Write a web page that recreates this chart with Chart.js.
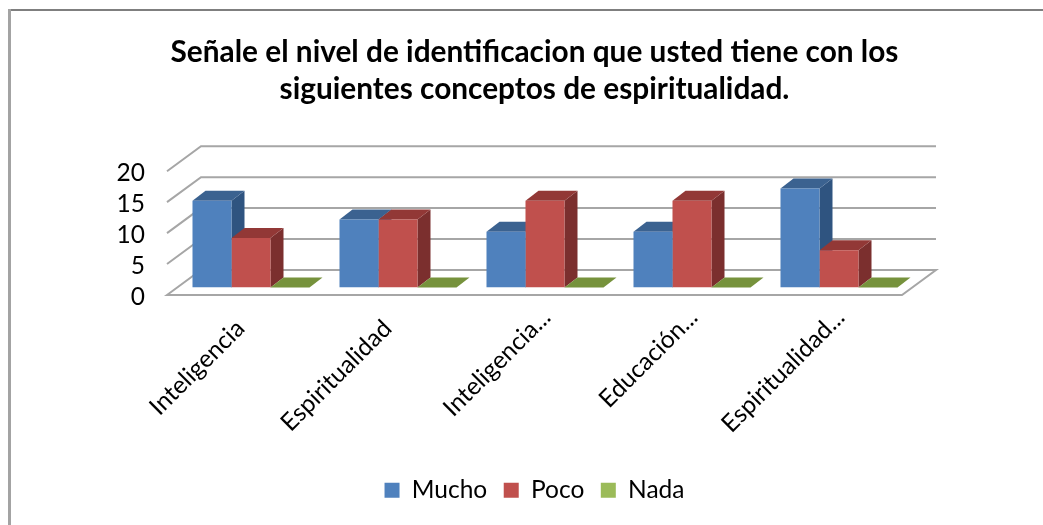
<!DOCTYPE html>
<html>
<head>
<meta charset="utf-8">
<style>
  html, body { margin: 0; padding: 0; background: #fff; }
  #wrap { width: 1043px; height: 525px; }
</style>
<script src="https://cdn.jsdelivr.net/npm/chart.js@4"></script>
</head>
<body>
<div id="wrap"><canvas id="grafico"></canvas></div>
<script>
var categorias = ['Inteligencia', 'Espiritualidad', 'Inteligencia...', 'Educación...', 'Espiritualidad...'];
var mucho = [14, 11, 9, 9, 16];
var poco = [8, 11, 14, 14, 6];
var nada = [0, 0, 0, 0, 0];
var tickLabels = [0, 5, 10, 15, 20];
var titulo = ['Señale el nivel de identificacion que usted tiene con los', 'siguientes conceptos de espiritualidad.'];

var FUENTE = 'Lato';
// colores: frente, tapa, lado
var tonos = [
    ['#4F81BD', '#3B6290', '#2F5480'],
    ['#C0504D', '#923836', '#7B2F2E'],
    ['#9BBB59', '#76923C', '#5F7530']
];

// profundidad de la caja y de las barras
var FONDO = { x: 34, y: -25 };
var PLANO = { x: 10.5, y: -7.5 };
var BARRA = { x: 13, y: -10 };

function poli(ctx, pts, color) {
    ctx.fillStyle = color;
    ctx.beginPath();
    ctx.moveTo(pts[0][0], pts[0][1]);
    for (var i = 1; i < pts.length; i++) ctx.lineTo(pts[i][0], pts[i][1]);
    ctx.closePath();
    ctx.fill();
}

// ajuste fino de las etiquetas ya calculadas por la escala
function moverEtiquetas(escala, dx, dy, filtro) {
    escala.getLabelItems().forEach(function(it) {
        if (it.movido || !filtro(it.label)) return;
        it.options.translation[0] += dx;
        it.options.translation[1] += dy;
        it.movido = true;
    });
}

var caja3d = {
    id: 'caja3d',
    beforeDraw: function(chart) {
        var ctx = chart.ctx;
        // marco del grafico, solo arriba e izquierda
        ctx.save();
        ctx.fillStyle = '#7f7f7f';
        ctx.fillRect(8, 9, 1035, 2);
        ctx.fillStyle = '#a3a3a3';
        ctx.fillRect(8, 9, 3, 516);
        ctx.restore();
        moverEtiquetas(chart.scales.x, 12, -11, function(t) { return String(t).slice(-3) === '...'; });
        moverEtiquetas(chart.scales.y, 0, 2, function() { return true; });
    },
    beforeDatasetsDraw: function(chart) {
        var ctx = chart.ctx, y = chart.scales.y, a = chart.chartArea;
        ctx.save();
        ctx.strokeStyle = '#a6a6a6';
        ctx.lineWidth = 2;
        tickLabels.forEach(function(v) {
            var py = y.getPixelForValue(v);
            ctx.beginPath();
            ctx.moveTo(a.left, py);
            ctx.lineTo(a.left + FONDO.x, py + FONDO.y);
            ctx.lineTo(a.right + FONDO.x, py + FONDO.y);
            if (v === 0) {
                ctx.lineTo(a.right, py);
                ctx.closePath();
            }
            ctx.stroke();
        });
        // tapas y lados de cada barra
        chart.data.datasets.forEach(function(ds, i) {
            chart.getDatasetMeta(i).data.forEach(function(b) {
                var p = b.getProps(['x', 'y', 'base', 'width']);
                var x0 = p.x - p.width / 2 + PLANO.x, x1 = p.x + p.width / 2 + PLANO.x;
                var top = p.y + PLANO.y, bot = p.base + PLANO.y;
                poli(ctx, [[x1, top], [x1 + BARRA.x, top + BARRA.y], [x1 + BARRA.x, bot + BARRA.y], [x1, bot]], tonos[i][2]);
                poli(ctx, [[x0, top], [x1, top], [x1 + BARRA.x, top + BARRA.y], [x0 + BARRA.x, top + BARRA.y]], tonos[i][1]);
            });
        });
        ctx.restore();
        // el frente lo dibuja Chart.js, desplazado al plano de las barras
        ctx.save();
        ctx.translate(PLANO.x, PLANO.y);
    },
    afterDatasetsDraw: function(chart) {
        chart.ctx.restore();
    }
};

new Chart(document.getElementById('grafico'), {
    type: 'bar',
    data: {
        labels: categorias,
        datasets: [
            { label: 'Mucho', data: mucho, backgroundColor: tonos[0][0] },
            { label: 'Poco', data: poco, backgroundColor: tonos[1][0] },
            { label: 'Nada', data: nada, backgroundColor: tonos[2][0] }
        ]
    },
    plugins: [caja3d],
    options: {
        responsive: true,
        maintainAspectRatio: false,
        animation: false,
        categoryPercentage: 0.796,
        barPercentage: 1,
        layout: { padding: { left: 0, right: 141, top: 0, bottom: 12.5 } },
        scales: {
            x: {
                grid: { display: false },
                border: { display: false },
                afterFit: function(s) { s.height = 166.5; },
                ticks: {
                    color: '#000',
                    font: { family: FUENTE, size: 24.5 },
                    minRotation: 45,
                    maxRotation: 45,
                    autoSkip: false,
                    padding: 11
                }
            },
            y: {
                min: 0,
                max: 20,
                grid: { display: false },
                border: { display: false },
                afterFit: function(s) { s.width = 167; },
                afterBuildTicks: function(s) {
                    s.ticks = tickLabels.map(function(v) { return { value: v }; });
                },
                ticks: {
                    color: '#000',
                    font: { family: FUENTE, size: 24.5 },
                    autoSkip: false,
                    padding: 14
                }
            }
        },
        plugins: {
            title: {
                display: true,
                fullSize: false,
                text: titulo,
                color: '#000',
                font: { family: FUENTE, size: 29.8, weight: 'bold', lineHeight: 1.27 },
                padding: { top: 33, bottom: 62.5 }
            },
            legend: {
                position: 'bottom',
                fullSize: false,
                labels: {
                    color: '#000',
                    font: { family: FUENTE, size: 24.5 },
                    boxWidth: 15,
                    boxHeight: 15,
                    padding: 16.5
                }
            },
            tooltip: { enabled: false }
        }
    }
});
</script>
</body>
</html>
